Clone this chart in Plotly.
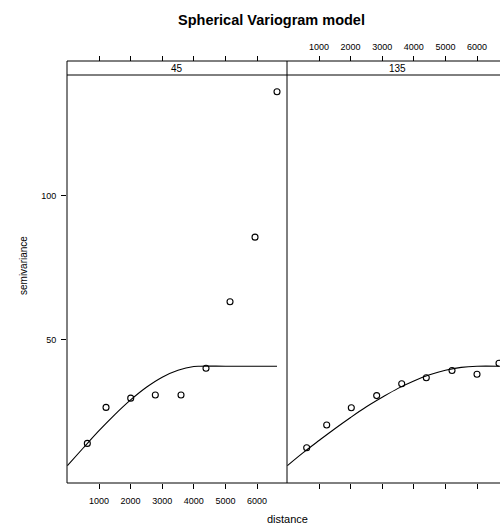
import plotly.graph_objects as go

# ---- data ----
panels = ["45", "135"]

dist_45 = [630, 1222, 2003, 2782, 3595, 4386, 5146, 5937, 6633]
gamma_45 = [14.1, 26.6, 29.8, 30.9, 30.9, 40.2, 63.3, 85.7, 136.2]

dist_135 = [610, 1243, 2022, 2825, 3617, 4395, 5209, 6000, 6696]
gamma_135 = [12.6, 20.5, 26.5, 30.7, 34.8, 36.9, 39.4, 38.1, 41.9]

# fitted spherical model lines
model_dist_45 = [0, 500, 1000, 1500, 2000, 2500, 3000, 3500, 4000, 4200, 5000, 6000, 6633]
model_gamma_45 = [6.4, 12.5, 18.5, 24.1, 29.2, 33.6, 37.1, 39.5, 40.8, 40.9, 40.9, 40.9, 40.9]

model_dist_135 = [0, 500, 1000, 1500, 2000, 2500, 3000, 3500, 4000, 4500, 5000, 5500, 6000, 6696]
model_gamma_135 = [6.4, 10.9, 15.1, 19.2, 23.1, 26.8, 30.1, 33.2, 35.8, 37.9, 39.5, 40.5, 40.9, 40.9]

xtick_vals = [1000, 2000, 3000, 4000, 5000, 6000]
ytick_vals = [50, 100]

# ---- geometry ----
W, H = 500, 525
L, R, T, B = 67, 0, 61, 42
pw = W - L - R          # 433
ph = H - T - B          # 422
panel_w = 220
split = panel_w / pw
strip_h = 14
ydom_top = (ph - strip_h) / ph
px_per_unit = 31.6 / 1000.0
x0 = -13
xr1 = [x0, x0 + panel_w / px_per_unit]
xr2 = [x0, x0 + (pw - panel_w) / px_per_unit]
yr = [0.35, 142]

FONT = "Liberation Sans, Arial, Helvetica, sans-serif"
fig = go.Figure()

mk = dict(symbol="circle-open", size=6, color="black", line=dict(width=1.1, color="black"))
ln = dict(color="black", width=1.1)

fig.add_trace(go.Scatter(x=model_dist_45, y=model_gamma_45, mode="lines", line=dict(shape="spline", **ln),
                         xaxis="x", yaxis="y", showlegend=False, hoverinfo="skip"))
fig.add_trace(go.Scatter(x=dist_45, y=gamma_45, mode="markers", marker=mk,
                         xaxis="x", yaxis="y", showlegend=False, cliponaxis=False))
fig.add_trace(go.Scatter(x=model_dist_135, y=model_gamma_135, mode="lines", line=dict(shape="spline", **ln),
                         xaxis="x2", yaxis="y", showlegend=False, hoverinfo="skip"))
fig.add_trace(go.Scatter(x=dist_135, y=gamma_135, mode="markers", marker=mk,
                         xaxis="x2", yaxis="y", showlegend=False, cliponaxis=False))
# dummy traces so the top axes render
fig.add_trace(go.Scatter(x=[1000], y=[50], mode="markers", marker=dict(opacity=0),
                         xaxis="x3", yaxis="y", showlegend=False, hoverinfo="skip"))
fig.add_trace(go.Scatter(x=[1000], y=[50], mode="markers", marker=dict(opacity=0),
                         xaxis="x4", yaxis="y", showlegend=False, hoverinfo="skip"))

tickfont = dict(family=FONT, size=9, color="black")
common_x = dict(tickvals=xtick_vals, ticks="outside", ticklen=5, tickwidth=1, tickcolor="black",
                showgrid=False, zeroline=False, showline=False, tickfont=tickfont, fixedrange=True)

fig.update_layout(
    width=W, height=H,
    margin=dict(l=L, r=R, t=T, b=B, pad=0),
    paper_bgcolor="white", plot_bgcolor="white",
    font=dict(family=FONT, color="black"),
    xaxis=dict(domain=[0, split], range=xr1, anchor="y", showticklabels=True,
               ticklabelstandoff=4, **common_x),
    xaxis2=dict(domain=[split, 1], range=xr2, anchor="y", showticklabels=False, **common_x),
    xaxis3=dict(overlaying="x", range=xr1, anchor="free", position=1, side="top",
                showticklabels=False, **common_x),
    xaxis4=dict(overlaying="x2", range=xr2, anchor="free", position=1, side="top",
                showticklabels=True, ticklabelstandoff=2, **common_x),
    yaxis=dict(domain=[0, ydom_top], range=yr, tickvals=ytick_vals, ticks="outside", ticklen=5,
               tickwidth=1, tickcolor="black", showgrid=False, zeroline=False, showline=False,
               tickfont=tickfont, fixedrange=True, ticklabelstandoff=3),
    showlegend=False,
)

lc = dict(color="black", width=1)
shapes = [
    # outer frame (right edge falls outside the page)
    dict(type="rect", xref="paper", yref="paper", x0=0, x1=1 + 7 / pw, y0=0, y1=1, line=lc),
    # strip bottom line
    dict(type="line", xref="paper", yref="paper", x0=0, x1=1, y0=ydom_top, y1=ydom_top, line=lc),
    # panel divider
    dict(type="line", xref="paper", yref="paper", x0=split, x1=split, y0=0, y1=1, line=lc),
]
fig.update_layout(shapes=shapes)

ann = []
strip_y = (ydom_top + 1) / 2
ann.append(dict(text=panels[0], xref="paper", yref="paper", x=split / 2, y=strip_y, showarrow=False,
                font=dict(family=FONT, size=10, color="black"), xanchor="center", yanchor="middle"))
ann.append(dict(text=panels[1], xref="paper", yref="paper", x=(split + 1 + 7 / pw) / 2, y=strip_y,
                showarrow=False, font=dict(family=FONT, size=10, color="black"),
                xanchor="center", yanchor="middle"))
# title
ann.append(dict(text="<b>Spherical Variogram model</b>", xref="paper", yref="paper",
                x=(271 - L) / pw, y=(H - B - 20) / ph, showarrow=False,
                font=dict(family=FONT, size=14.5, color="black"), xanchor="center", yanchor="middle"))
# x label
ann.append(dict(text="distance", xref="paper", yref="paper", x=(287 - L) / pw, y=-(519 - (H - B)) / ph,
                showarrow=False, font=dict(family=FONT, size=11, color="black"),
                xanchor="center", yanchor="middle"))
# y label
ann.append(dict(text="semivariance", xref="paper", yref="paper", x=(23 - L) / pw, y=(H - B - 266) / ph,
                showarrow=False, textangle=-90, font=dict(family=FONT, size=10, color="black"),
                xanchor="center", yanchor="middle"))
fig.update_layout(annotations=ann)

fig.write_html("out.html")
